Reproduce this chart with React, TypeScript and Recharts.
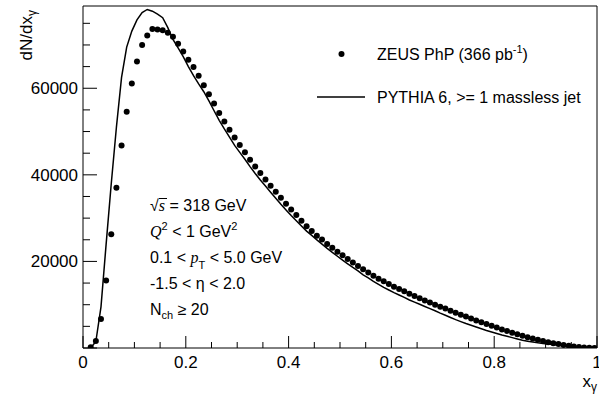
import React from 'react';
import { ComposedChart, Line, Scatter, XAxis, YAxis, ReferenceLine } from 'recharts';

// ─────────────────────────────────────────────────────────────────────────────
// Data (bin centres of x_gamma, 0.01 wide bins)
// ─────────────────────────────────────────────────────────────────────────────

const xBins = [
  0.015, 0.025, 0.035, 0.045, 0.055, 0.065, 0.075, 0.085, 0.095, 0.105,
  0.115, 0.125, 0.135, 0.145, 0.155, 0.165, 0.175, 0.185, 0.195, 0.205,
  0.215, 0.225, 0.235, 0.245, 0.255, 0.265, 0.275, 0.285, 0.295, 0.305,
  0.315, 0.325, 0.335, 0.345, 0.355, 0.365, 0.375, 0.385, 0.395, 0.405,
  0.415, 0.425, 0.435, 0.445, 0.455, 0.465, 0.475, 0.485, 0.495, 0.505,
  0.515, 0.525, 0.535, 0.545, 0.555, 0.565, 0.575, 0.585, 0.595, 0.605,
  0.615, 0.625, 0.635, 0.645, 0.655, 0.665, 0.675, 0.685, 0.695, 0.705,
  0.715, 0.725, 0.735, 0.745, 0.755, 0.765, 0.775, 0.785, 0.795, 0.805,
  0.815, 0.825, 0.835, 0.845, 0.855, 0.865, 0.875, 0.885, 0.895, 0.905,
  0.915, 0.925, 0.935, 0.945, 0.955, 0.965, 0.975, 0.985, 0.995,
];

const zeusPhp = [
  200, 1600, 6700, 15600, 26300, 37000, 46800, 54600, 61100, 66200,
  70000, 72200, 73700, 73600, 73400, 72800, 71900, 70300, 68500, 66600,
  64900, 62900, 60700, 58600, 56500, 54300, 52300, 50400, 48600, 46900,
  45200, 43500, 41900, 40400, 38950, 37500, 36100, 34700, 33300, 32000,
  30700, 29400, 28100, 27000, 25950, 25050, 24000, 23150, 22250, 21400,
  20550, 19750, 18950, 18200, 17450, 16700, 16000, 15400, 14800, 14170,
  13640, 13100, 12550, 12000, 11500, 11000, 10500, 10000, 9550, 9100,
  8600, 8150, 7700, 7250, 6800, 6350, 5950, 5550, 5150, 4750,
  4300, 3950, 3550, 3200, 2850, 2500, 2200, 1900, 1600, 1350,
  1100, 900, 700, 520, 370, 230, 130, 60, 20,
];

const pythia6 = [
  0, 1500, 9500, 24000, 38000, 51000, 62500, 69500, 73200, 75800,
  77500, 78200, 77800, 77100, 76300, 74000, 71300, 69300, 67300, 65000,
  62900, 61000, 59200, 57100, 54800, 52600, 50600, 48700, 46800, 45200,
  43600, 41900, 40300, 38800, 37400, 36000, 34600, 33200, 31900, 30600,
  29400, 28200, 27000, 26000, 24970, 24000, 23000, 22100, 21200, 20300,
  19450, 18600, 17800, 16900, 16200, 15400, 14700, 14000, 13400, 12800,
  12250, 11700, 11100, 10600, 10100, 9600, 9100, 8600, 8050, 7550,
  7050, 6550, 6100, 5650, 5250, 4850, 4450, 4050, 3700, 3350,
  3000, 2700, 2400, 2100, 1800, 1580, 1380, 1200, 1050, 920,
  800, 650, 500, 350, 200, 80, 0, 0, 0,
];

const xTicks = [
  0, 0.05, 0.1, 0.15, 0.2, 0.25, 0.3, 0.35, 0.4, 0.45, 0.5,
  0.55, 0.6, 0.65, 0.7, 0.75, 0.8, 0.85, 0.9, 0.95, 1,
];
const yTicks = [
  0, 5000, 10000, 15000, 20000, 25000, 30000, 35000,
  40000, 45000, 50000, 55000, 60000, 65000, 70000, 75000,
];

// ─────────────────────────────────────────────────────────────────────────────
// Layout
// ─────────────────────────────────────────────────────────────────────────────

const W = 599;
const H = 394;
const PLOT_LEFT = 83;
const PLOT_BOTTOM = 348;
const Y_MAX = 79000;
const SANS = '"Liberation Sans", Arial, Helvetica, sans-serif';
const SERIF = '"Liberation Serif", "Times New Roman", serif';

const zeusData = xBins.map((x, i) => ({ x, y: zeusPhp[i] }));
const pythiaData = xBins.map((x, i) => ({ x, y: pythia6[i] }));

function isMajorX(v: number) {
  return Math.abs(v * 5 - Math.round(v * 5)) < 1e-6;
}

function XTick(props: any) {
  const { x, payload } = props;
  const v = payload.value as number;
  const major = isMajorX(v);
  return (
    <g>
      <line x1={x} x2={x} y1={PLOT_BOTTOM} y2={PLOT_BOTTOM - (major ? 12 : 6)} stroke="#000" />
      {major && (
        <text x={x} y={368} textAnchor="middle" fontSize={17} fontFamily={SANS} fill="#000">
          {String(Number(v.toFixed(1)))}
        </text>
      )}
    </g>
  );
}

function YTick(props: any) {
  const { y, payload } = props;
  const v = payload.value as number;
  const major = v % 20000 === 0;
  return (
    <g>
      <line x1={PLOT_LEFT} x2={PLOT_LEFT + (major ? 14 : 7)} y1={y} y2={y} stroke="#000" />
      {major && v !== 0 && (
        <text x={78} y={y + 6} textAnchor="end" fontSize={17} fontFamily={SANS} fill="#000">
          {v}
        </text>
      )}
    </g>
  );
}

const renderDot = (props: any) => <circle cx={props.cx} cy={props.cy} r={3} fill="#000" />;

export default function App() {
  return (
    <div style={{ position: 'absolute', left: 0, top: 0, width: W, height: H, background: '#fff' }}>
      <ComposedChart width={W} height={H} margin={{ top: 6, right: 2, bottom: 0, left: 0 }}>
        <XAxis
          type="number"
          dataKey="x"
          domain={[0, 1]}
          ticks={xTicks}
          interval={0}
          height={46}
          tickLine={false}
          axisLine={{ stroke: '#000' }}
          tick={XTick}
          allowDataOverflow
        />
        <YAxis
          type="number"
          domain={[0, Y_MAX]}
          ticks={yTicks}
          interval={0}
          width={83}
          tickLine={false}
          axisLine={{ stroke: '#000' }}
          tick={YTick}
          allowDataOverflow
        />
        <ReferenceLine y={Y_MAX} stroke="#000" />
        <ReferenceLine x={1} stroke="#000" />
        <Line
          data={pythiaData}
          dataKey="y"
          type="linear"
          stroke="#000"
          strokeWidth={1.5}
          dot={false}
          isAnimationActive={false}
        />
        <Scatter data={zeusData} dataKey="y" shape={renderDot} isAnimationActive={false} />
      </ComposedChart>

      {/* titles, legend and cuts */}
      <svg
        width={W}
        height={H}
        style={{ position: 'absolute', left: 0, top: 0, pointerEvents: 'none' }}
        fontFamily={SANS}
        fill="#000"
      >
        <text transform="translate(32,10) rotate(-90)" textAnchor="end" fontSize={17}>
          dN/dx<tspan fontSize={12} dy={4}>γ</tspan>
        </text>
        <text x={597} y={387} textAnchor="end" fontSize={17}>
          x<tspan fontSize={12} dy={4}>γ</tspan>
        </text>

        <circle cx={341.5} cy={54} r={3} />
        <text x={377} y={60} fontSize={16}>
          ZEUS PhP (366 pb<tspan fontSize={11} dy={-7}>-1</tspan>
          <tspan dy={7}>)</tspan>
        </text>
        <line x1={317} x2={365} y1={97} y2={97} stroke="#000" strokeWidth={1.5} />
        <text x={377} y={102.5} fontSize={16}>
          PYTHIA 6, &gt;= 1 massless jet
        </text>

        <g fontSize={16}>
          <text x={150} y={211}>
            √<tspan fontFamily={SERIF} fontStyle="italic">s</tspan> = 318 GeV
          </text>
          <line x1={159} x2={167} y1={198.5} y2={198.5} stroke="#000" strokeWidth={1} />
          <text x={150} y={237}>
            <tspan fontFamily={SERIF} fontStyle="italic">Q</tspan>
            <tspan fontSize={11} dy={-7}>2</tspan>
            <tspan dy={7}> &lt; 1 GeV</tspan>
            <tspan fontSize={11} dy={-7}>2</tspan>
          </text>
          <text x={150} y={263}>
            0.1 &lt; <tspan fontFamily={SERIF} fontStyle="italic">p</tspan>
            <tspan fontSize={11} dy={6}>T</tspan>
            <tspan dy={-6}> &lt; 5.0 GeV</tspan>
          </text>
          <text x={150} y={289}>-1.5 &lt; η &lt; 2.0</text>
          <text x={150} y={315}>
            N<tspan fontSize={11} dy={4}>ch</tspan>
            <tspan dy={-4}> ≥ 20</tspan>
          </text>
        </g>
      </svg>
    </div>
  );
}
